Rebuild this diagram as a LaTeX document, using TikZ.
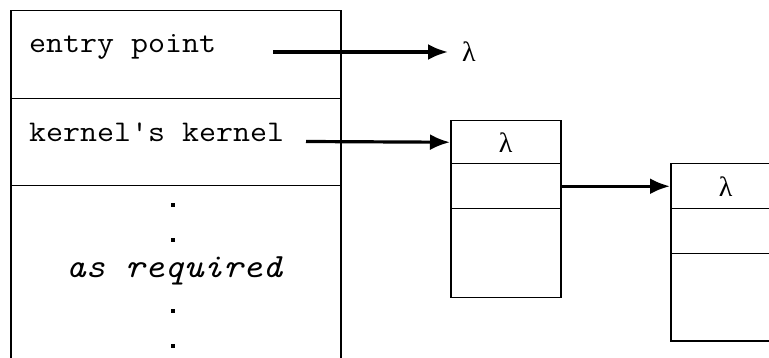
\documentclass[tikz,border=0pt]{standalone}
\usepackage{fontspec}
\setmonofont{Latin Modern Mono}[FakeStretch=1.1]
\newfontfamily\lamfont{Liberation Serif}
\usetikzlibrary{arrows.meta}
\begin{document}
\begin{tikzpicture}[x=1pt,y=-1pt,
  cell/.style={draw, line width=1.5pt, anchor=north west, inner sep=0pt},
  label/.style={font=\fontsize{30}{33}\selectfont\ttfamily, inner sep=0pt},
  lam/.style={font=\fontsize{28}{30}\selectfont\lamfont, inner sep=0pt},
  dot/.style={fill, minimum size=3.4pt, inner sep=0pt},
  link/.style={line width=3.2pt, -{Latex[length=20pt,width=16pt]}}]
  \useasboundingbox (0,0) rectangle (769,358);
  \clip (0,0) rectangle (769,358);

  % left table of slots
  \node[cell, minimum width=330pt, minimum height=88pt] (ep) at (10,10) {};
  \node[cell, minimum width=330pt, minimum height=87pt] (kk) at (10,98) {};
  \node[cell, minimum width=330pt, minimum height=190pt] (ar) at (10,185) {};

  \node[label, anchor=base west] (eptext) at (29,53) {entry point};
  \node[label, anchor=base west] (kktext) at (29,142) {kernel{\char39}s kernel};
  \node[label, anchor=base, font=\fontsize{34}{36}\selectfont\ttfamily\itshape] (artext) at (174,278) {as required};
  \node[dot] (d1) at (173,205) {};
  \node[dot] (d2) at (173,240) {};
  \node[dot] (d3) at (173,311) {};
  \node[dot] (d4) at (173,346) {};

  % first closure block
  \node[cell, minimum width=110pt, minimum height=43pt] (ba) at (450,120) {};
  \node[cell, minimum width=110pt, minimum height=45pt] (bb) at (450,163) {};
  \node[cell, minimum width=110pt, minimum height=89pt] (bc) at (450,208) {};
  \node[lam] at (ba.center) {λ};

  % second closure block
  \node[cell, minimum width=110pt, minimum height=45pt] (ca) at (670,163) {};
  \node[cell, minimum width=110pt, minimum height=45pt] (cb) at (670,208) {};
  \node[cell, minimum width=110pt, minimum height=87pt] (cc) at (670,253) {};
  \node[lam] at (ca.center) {λ};

  % free lambda
  \node[lam, anchor=west] (lam1) at (462,52) {λ};

  % pointers
  \coordinate (s1) at (273,52);
  \coordinate (s2) at (306,141.5);
  \draw[link, shorten >=14pt] (s1) -- (lam1.west |- s1);
  \draw[link] (s2) -- (ba.west);
  \draw[link] (bb.east) -- (ca.west);
\end{tikzpicture}
\end{document}
